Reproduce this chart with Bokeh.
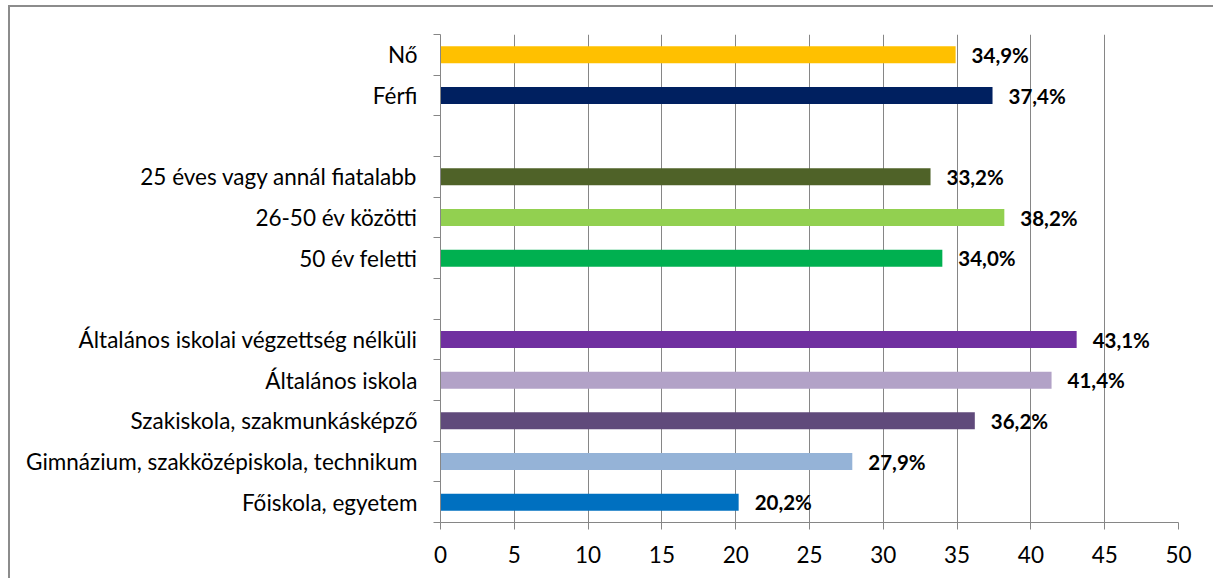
from bokeh.plotting import figure
from bokeh.models import ColumnDataSource, Range1d, FixedTicker
from bokeh.core.properties import value
from bokeh.embed import file_html
from bokeh.resources import INLINE

# ---- data ----
groups = [
    ["Nő", "Férfi"],
    ["25 éves vagy annál fiatalabb", "26-50 év közötti", "50 év feletti"],
    ["Általános iskolai végzettség nélküli", "Általános iskola",
     "Szakiskola, szakmunkásképző", "Gimnázium, szakközépiskola, technikum",
     "Főiskola, egyetem"],
]
values = [34.9, 37.4, 33.2, 38.2, 34.0, 43.1, 41.4, 36.2, 27.9, 20.2]
colors = ["#FFC000", "#002060", "#4F6228", "#92D050", "#00B050",
          "#7030A0", "#B2A2C7", "#604A7B", "#95B3D7", "#0070C0"]
x_ticks = [0, 5, 10, 15, 20, 25, 30, 35, 40, 45, 50]

# ---- slot layout (one empty slot between groups) ----
labels, slots = [], []
slot = 0
for gi, g in enumerate(groups):
    if gi > 0:
        slot += 1
    for c in g:
        labels.append(c)
        slots.append(slot)
        slot += 1
n_slots = slot
ys = [n_slots - s - 0.5 for s in slots]

src = ColumnDataSource(dict(
    y=ys, v=values, color=colors, cat=labels,
    txt=[f"{v:.1f}".replace(".", ",") + "%" for v in values],
))

FONT = "Lato"
GRAY = "#868686"

p = figure(width=1205, height=573, output_backend="svg", toolbar_location=None,
           x_range=Range1d(0, 50), y_range=Range1d(0, n_slots),
           min_border_left=430, min_border_right=37, min_border_top=27,
           min_border_bottom=58)
p.styles = {"margin-left": "8px", "margin-top": "5px",
            "border-left": "2px solid #8c8c8c", "border-top": "2px solid #8c8c8c"}
p.outline_line_color = None
p.background_fill_color = "white"
p.border_fill_color = "white"

p.hbar(y="y", right="v", left=0, height=0.42, fill_color="color",
       line_color=None, source=src)
p.text(x="v", y="y", text="txt", x_offset=16, text_baseline="middle",
       text_align="left", text_font=value(FONT), text_font_style="bold",
       text_font_size="20.5px", text_color="black", source=src)

# x axis
p.xaxis.ticker = FixedTicker(ticks=x_ticks)
p.xaxis.major_tick_out = 7
p.xaxis.major_tick_in = 0
p.xaxis.minor_tick_line_color = None
p.xaxis.axis_line_color = GRAY
p.xaxis.major_tick_line_color = GRAY
p.xaxis.major_label_text_font = FONT
p.xaxis.major_label_text_font_size = "22.5px"
p.xaxis.major_label_text_color = "black"
p.xaxis.major_label_standoff = 16

# y axis: labels at slot centers, ticks at slot boundaries
p.yaxis.ticker = FixedTicker(ticks=ys, minor_ticks=list(range(0, n_slots + 1)))
p.yaxis.major_label_overrides = {y: c for y, c in zip(ys, labels)}
p.yaxis.major_tick_out = 0
p.yaxis.major_tick_in = 0
p.yaxis.minor_tick_out = 7
p.yaxis.minor_tick_in = 0
p.yaxis.minor_tick_line_color = GRAY
p.yaxis.axis_line_color = GRAY
p.yaxis.major_label_text_font = FONT
p.yaxis.major_label_text_font_size = "22.5px"
p.yaxis.major_label_text_color = "black"
p.yaxis.major_label_standoff = 16

p.xgrid.ticker = FixedTicker(ticks=x_ticks)
p.xgrid.grid_line_color = GRAY
p.xgrid.grid_line_width = 1
p.ygrid.grid_line_color = None

open("out.html", "w").write(file_html(p, INLINE))
